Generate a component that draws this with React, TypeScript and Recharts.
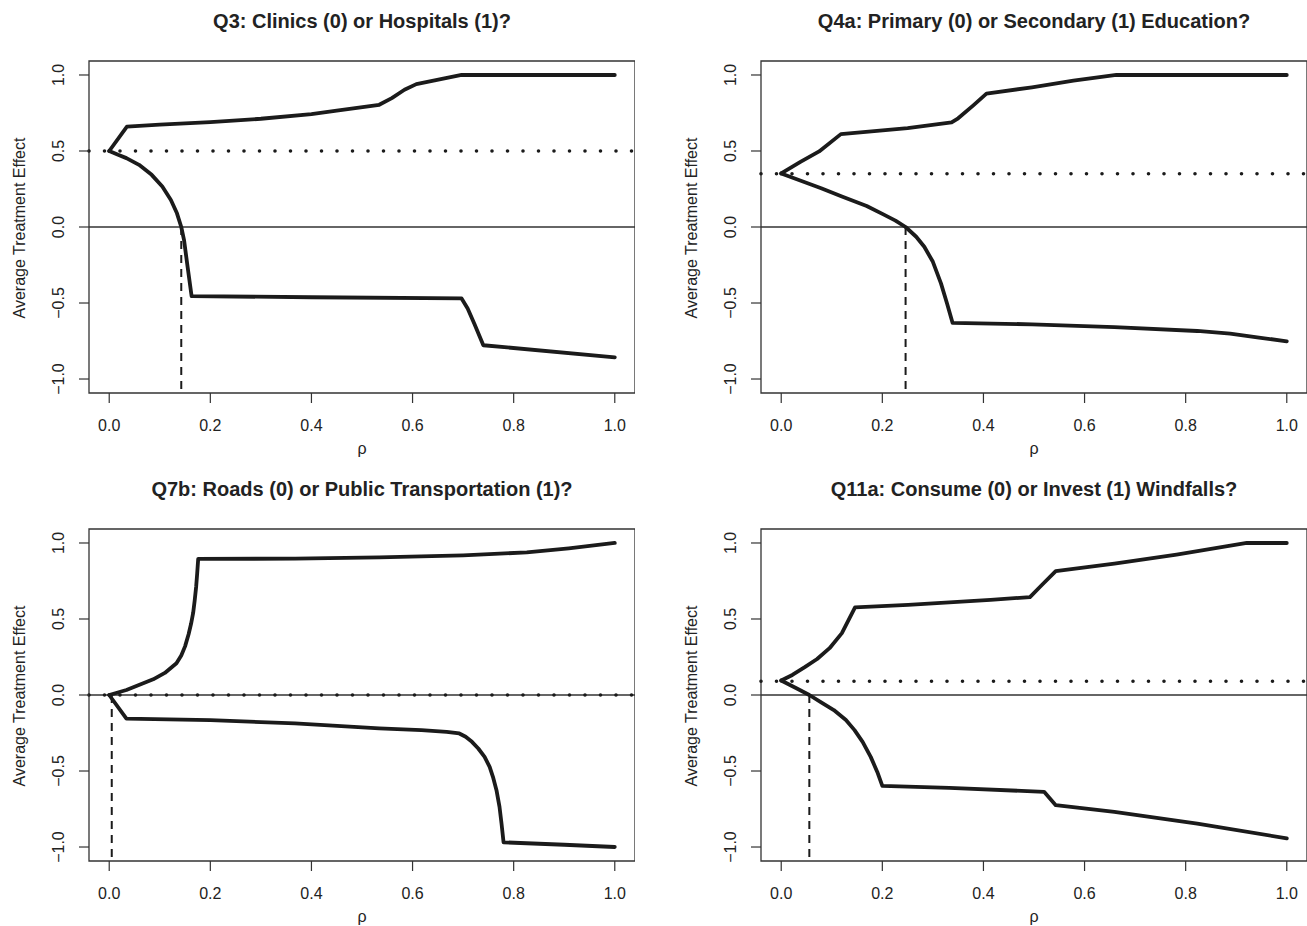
import React from 'react';
import { LineChart, Line, XAxis, YAxis, ReferenceLine, ReferenceArea } from 'recharts';

// ---------- data ----------
const xTicks = [0, 0.2, 0.4, 0.6, 0.8, 1.0];
const xTickLabels = ['0.0', '0.2', '0.4', '0.6', '0.8', '1.0'];
const yTicks = [-1, -0.5, 0, 0.5, 1];
const yTickLabels = ['\u22121.0', '\u22120.5', '0.0', '0.5', '1.0'];

const panelTitles = [
  'Q3: Clinics (0) or Hospitals (1)?',
  'Q4a: Primary (0) or Secondary (1) Education?',
  'Q7b: Roads (0) or Public Transportation (1)?',
  'Q11a: Consume (0) or Invest (1) Windfalls?',
];
const xLabel = '\u03C1';
const yLabel = 'Average Treatment Effect';

// Q3
const q3RhoUpper = [0, 0.035, 0.1, 0.2, 0.3, 0.4, 0.45, 0.534, 0.559, 0.584, 0.6075, 0.697, 1.0];
const q3AteUpper = [0.5, 0.66, 0.673, 0.69, 0.712, 0.743, 0.765, 0.804, 0.848, 0.903, 0.94, 1.0, 1.0];
const q3RhoLower = [0, 0.0175, 0.034, 0.059, 0.084, 0.105, 0.122, 0.134, 0.1425, 0.148, 0.155, 0.163, 0.4, 0.697, 0.709, 0.722, 0.74, 1.0];
const q3AteLower = [0.5, 0.475, 0.453, 0.409, 0.343, 0.266, 0.178, 0.09, 0.0, -0.086, -0.262, -0.455, -0.462, -0.47, -0.536, -0.635, -0.778, -0.857];
const q3Ate = 0.5;
const q3Cross = 0.1425;

// Q4a
const q4RhoUpper = [0, 0.038, 0.075, 0.118, 0.25, 0.337, 0.35, 0.38, 0.406, 0.496, 0.578, 0.663, 1.0];
const q4AteUpper = [0.352, 0.428, 0.497, 0.611, 0.65, 0.688, 0.715, 0.8, 0.877, 0.919, 0.963, 1.0, 1.0];
const q4RhoLower = [0, 0.079, 0.12, 0.169, 0.202, 0.226, 0.246, 0.267, 0.283, 0.3, 0.316, 0.328, 0.339, 0.496, 0.659, 0.823, 0.888, 0.945, 1.0];
const q4AteLower = [0.352, 0.255, 0.2, 0.138, 0.083, 0.042, 0.0, -0.064, -0.13, -0.229, -0.371, -0.503, -0.631, -0.64, -0.659, -0.684, -0.701, -0.727, -0.752];
const q4Ate = 0.35;
const q4Cross = 0.246;

// Q7b
const q7RhoUpper = [0, 0.034, 0.087, 0.11, 0.133, 0.1425, 0.15, 0.157, 0.162, 0.166, 0.169, 0.172, 0.174, 0.176, 0.3675, 0.534, 0.7, 0.826, 0.909, 1.0];
const q7AteUpper = [0, 0.033, 0.103, 0.145, 0.209, 0.26, 0.32, 0.4, 0.47, 0.54, 0.62, 0.714, 0.8, 0.895, 0.897, 0.905, 0.919, 0.938, 0.965, 1.0];
const q7RhoLower = [0, 0.034, 0.2, 0.3675, 0.534, 0.6175, 0.6675, 0.6925, 0.705, 0.7175, 0.73, 0.7425, 0.7525, 0.759, 0.766, 0.772, 0.776, 0.78, 0.9, 1.0];
const q7AteLower = [0, -0.155, -0.165, -0.187, -0.22, -0.231, -0.242, -0.253, -0.275, -0.308, -0.352, -0.407, -0.473, -0.538, -0.626, -0.736, -0.846, -0.969, -0.985, -1.0];
const q7Ate = 0.0;
const q7Cross = 0.005;

// Q11a
const q11RhoUpper = [0, 0.022, 0.0466, 0.071, 0.0956, 0.12, 0.146, 0.251, 0.414, 0.492, 0.516, 0.543, 0.659, 0.782, 0.921, 1.0];
const q11AteUpper = [0.095, 0.132, 0.183, 0.237, 0.308, 0.407, 0.576, 0.593, 0.626, 0.644, 0.725, 0.815, 0.864, 0.923, 1.0, 1.0];
const q11RhoLower = [0, 0.03, 0.0556, 0.079, 0.104, 0.128, 0.145, 0.161, 0.177, 0.19, 0.2, 0.3325, 0.52, 0.543, 0.659, 0.823, 1.0];
const q11AteLower = [0.095, 0.044, 0.0, -0.049, -0.099, -0.165, -0.231, -0.308, -0.407, -0.506, -0.598, -0.611, -0.637, -0.725, -0.769, -0.846, -0.943];
const q11Ate = 0.09;
const q11Cross = 0.0556;

// ---------- layout / style ----------
const FONT = '"Liberation Sans", Arial, Helvetica, sans-serif';
const INK = '#1b1b1b';
const AXIS = '#333333';
const TEXT = '#222222';
const X_DOMAIN: [number, number] = [-0.04, 1.04];
const Y_DOMAIN: [number, number] = [-1.092, 1.092];
const CH_W = 635;
const CH_H = 455;
const PLOT_L = 89;
const PLOT_T = 61;
const PLOT_B = 393;
const colLeft = [0, 672];
const rowTop = [0, 468];

const pts = (xs: number[], ys: number[]) => xs.map((x, i) => ({ x, y: ys[i] }));

const XTick = (props: any) => {
  const { x, payload } = props;
  const i = xTicks.indexOf(payload.value);
  return (
    <text x={x} y={430.7} textAnchor="middle" fontSize={16} fontFamily={FONT} fill={TEXT}>
      {i >= 0 ? xTickLabels[i] : String(payload.value)}
    </text>
  );
};

const YTick = (props: any) => {
  const { y, payload } = props;
  const i = yTicks.indexOf(payload.value);
  const bx = 64.3;
  return (
    <text x={bx} y={y} transform={`rotate(-90, ${bx}, ${y})`} textAnchor="middle" fontSize={16} fontFamily={FONT} fill={TEXT}>
      {i >= 0 ? yTickLabels[i] : String(payload.value)}
    </text>
  );
};

type PanelProps = {
  rhoU: number[]; ateU: number[]; rhoL: number[]; ateL: number[]; ate: number; cross: number;
};

const Panel = ({ rhoU, ateU, rhoL, ateL, ate, cross }: PanelProps) => (
  <LineChart width={CH_W} height={CH_H} margin={{ top: PLOT_T, right: 0, bottom: 0, left: 0 }}>
    <XAxis
      type="number"
      dataKey="x"
      domain={X_DOMAIN}
      ticks={xTicks}
      interval={0}
      allowDataOverflow
      height={CH_H - PLOT_B}
      tickSize={10}
      tickLine={{ stroke: AXIS, strokeWidth: 1.2 }}
      axisLine={false}
      tick={XTick}
    />
    <YAxis
      type="number"
      dataKey="y"
      domain={Y_DOMAIN}
      ticks={yTicks}
      interval={0}
      allowDataOverflow
      width={PLOT_L}
      tickSize={10}
      tickLine={{ stroke: AXIS, strokeWidth: 1.2 }}
      axisLine={false}
      tick={YTick}
    />
    <ReferenceArea x1={X_DOMAIN[0]} x2={X_DOMAIN[1]} y1={Y_DOMAIN[0]} y2={Y_DOMAIN[1]} fill="none" fillOpacity={0} stroke={AXIS} strokeWidth={1.3} ifOverflow="visible" />
    <ReferenceLine y={0} stroke={AXIS} strokeWidth={1.3} ifOverflow="visible" />
    <ReferenceLine
      segment={[{ x: cross, y: 0 }, { x: cross, y: Y_DOMAIN[0] }]}
      stroke={INK}
      strokeWidth={2}
      strokeDasharray="8 6"
      ifOverflow="visible"
    />
    <ReferenceLine y={ate} stroke={INK} strokeWidth={3.6} strokeDasharray="0 15.5" strokeLinecap="round" ifOverflow="visible" />
    <Line data={pts(rhoU, ateU)} dataKey="y" type="linear" stroke={INK} strokeWidth={3.8} dot={false} activeDot={false} strokeLinejoin="round" strokeLinecap="round" isAnimationActive={false} />
    <Line data={pts(rhoL, ateL)} dataKey="y" type="linear" stroke={INK} strokeWidth={3.8} dot={false} activeDot={false} strokeLinejoin="round" strokeLinecap="round" isAnimationActive={false} />
  </LineChart>
);

const panels: PanelProps[] = [
  { rhoU: q3RhoUpper, ateU: q3AteUpper, rhoL: q3RhoLower, ateL: q3AteLower, ate: q3Ate, cross: q3Cross },
  { rhoU: q4RhoUpper, ateU: q4AteUpper, rhoL: q4RhoLower, ateL: q4AteLower, ate: q4Ate, cross: q4Cross },
  { rhoU: q7RhoUpper, ateU: q7AteUpper, rhoL: q7RhoLower, ateL: q7AteLower, ate: q7Ate, cross: q7Cross },
  { rhoU: q11RhoUpper, ateU: q11AteUpper, rhoL: q11RhoLower, ateL: q11AteLower, ate: q11Ate, cross: q11Cross },
];

export default function App() {
  const plotCx = PLOT_L + (CH_W - PLOT_L) / 2;
  const plotCy = (PLOT_T + PLOT_B) / 2;
  return (
    <div style={{ position: 'absolute', left: 0, top: 0, width: 1307, height: 926, overflow: 'hidden', background: '#fff' }}>
      {panels.map((p, i) => {
        const left = colLeft[i % 2];
        const top = rowTop[Math.floor(i / 2)];
        return (
          <div key={i} style={{ position: 'absolute', left, top, width: CH_W, height: CH_H }}>
            <Panel {...p} />
          </div>
        );
      })}
      <svg width={1307} height={926} style={{ position: 'absolute', left: 0, top: 0, pointerEvents: 'none' }}>
        {panels.map((_, i) => {
          const left = colLeft[i % 2];
          const top = rowTop[Math.floor(i / 2)];
          const ylx = left + 19.5;
          const yly = top + plotCy + 1;
          return (
            <g key={i} fontFamily={FONT} fill={TEXT}>
              <text x={left + plotCx} y={top + 28.3} textAnchor="middle" fontSize={20} fontWeight="bold">
                {panelTitles[i]}
              </text>
              <text x={left + plotCx} y={top + 453.5} textAnchor="middle" fontSize={16}>
                {xLabel}
              </text>
              <text x={ylx} y={yly} transform={`rotate(-90, ${ylx}, ${yly})`} textAnchor="middle" dominantBaseline="central" fontSize={16}>
                {yLabel}
              </text>
            </g>
          );
        })}
      </svg>
    </div>
  );
}
